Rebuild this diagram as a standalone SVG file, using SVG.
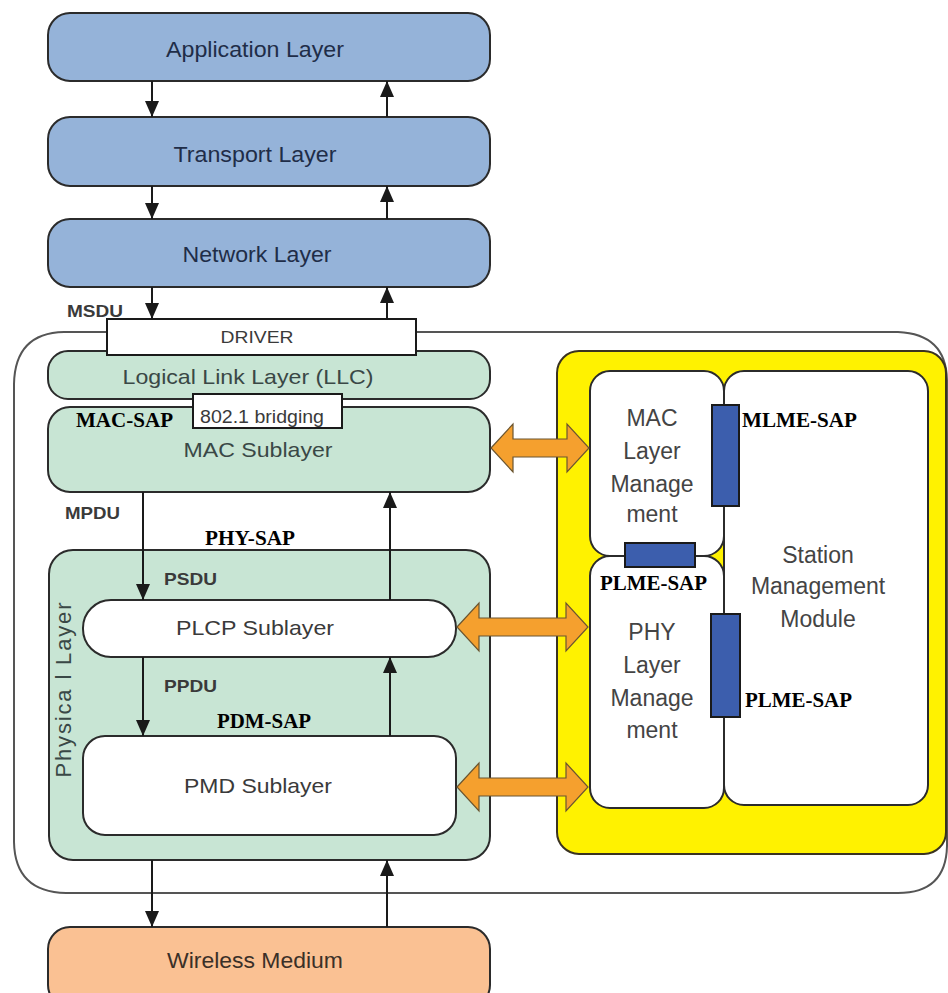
<svg xmlns="http://www.w3.org/2000/svg" width="948" height="993" viewBox="0 0 948 993">
<defs>
<style>
.blue{fill:#95B3D9;stroke:#2b2b2b;stroke-width:2}
.green{fill:#C8E5D4;stroke:#2b2b2b;stroke-width:2}
.white{fill:#FFFFFF;stroke:#2b2b2b;stroke-width:2}
.orange{fill:#FAC193;stroke:#2b2b2b;stroke-width:2}
.sap{fill:#3C5EAD;stroke:#1a1a1a;stroke-width:2}
.oarrow{fill:#F5A02E;stroke:#6b5530;stroke-width:1.2}
.lbl{font-family:"Liberation Sans",Arial,sans-serif;text-anchor:middle}
.big{font-size:22px;fill:#1f2d48}
.gtxt{font-size:21px;fill:#3a4846}
.wtxt{font-size:21px;fill:#3a3a3a}
.pdu{font-family:"Liberation Sans",Arial,sans-serif;font-weight:bold;font-size:17px;fill:#3a3a3a}
.sapt{font-family:"Liberation Serif","Times New Roman",serif;font-weight:bold;font-size:20px;fill:#000}
.mg{font-family:"Liberation Sans",Arial,sans-serif;font-size:23px;fill:#444;text-anchor:middle}
.conn{stroke:#1a1a1a;stroke-width:2;fill:none;marker-end:url(#ah)}
</style>
<marker id="ah" markerUnits="userSpaceOnUse" markerWidth="16" markerHeight="14" refX="16" refY="7" orient="auto">
<path d="M0,0 L16,7 L0,14 z" fill="#1a1a1a"/>
</marker>
</defs>
<rect width="948" height="993" fill="#FFFFFF"/>

<g id="container">
<path d="M64,332 L898,332 Q946,334 947,380 L947,846 Q946,893 898,893 L66,893 Q15,892 14,842 L14,384 Q15,333 64,332 Z" fill="#FFFFFF" stroke="#555555" stroke-width="2"/>
</g>

<g id="application">
<rect class="blue" x="48" y="13" width="442" height="68" rx="22"/>
<text class="lbl big" x="255" y="57" textLength="178" lengthAdjust="spacingAndGlyphs">Application Layer</text>
</g>
<g id="transport">
<rect class="blue" x="48" y="117" width="442" height="69" rx="22"/>
<text class="lbl big" x="255" y="162" textLength="163" lengthAdjust="spacingAndGlyphs">Transport Layer</text>
</g>
<g id="network">
<rect class="blue" x="48" y="219" width="442" height="68" rx="22"/>
<text class="lbl big" x="257" y="262" textLength="149" lengthAdjust="spacingAndGlyphs">Network Layer</text>
</g>

<g id="station-mgmt">
<rect x="557" y="351" width="389" height="503" rx="22" fill="#FFF200" stroke="#3a3320" stroke-width="2"/>
<rect class="white" x="590" y="371" width="134" height="185" rx="20"/>
<rect class="white" x="590" y="556" width="134" height="252" rx="20"/>
<rect class="white" x="724" y="371" width="204" height="434" rx="20"/>
<text class="mg" x="652" y="426">MAC</text>
<text class="mg" x="652" y="459">Layer</text>
<text class="mg" x="652" y="492">Manage</text>
<text class="mg" x="652" y="522">ment</text>
<text class="mg" x="652" y="640">PHY</text>
<text class="mg" x="652" y="673">Layer</text>
<text class="mg" x="652" y="706">Manage</text>
<text class="mg" x="652" y="738">ment</text>
<text class="mg" x="818" y="563">Station</text>
<text class="mg" x="818" y="594">Management</text>
<text class="mg" x="818" y="627">Module</text>
<rect class="sap" x="712" y="405" width="27" height="101"/>
<rect class="sap" x="625" y="543" width="70" height="24"/>
<rect class="sap" x="711" y="614" width="29" height="103"/>
<text class="sapt" x="742" y="427" textLength="115" lengthAdjust="spacingAndGlyphs">MLME-SAP</text>
<text class="sapt" x="600" y="590" textLength="107" lengthAdjust="spacingAndGlyphs">PLME-SAP</text>
<text class="sapt" x="745" y="707" textLength="107" lengthAdjust="spacingAndGlyphs">PLME-SAP</text>
</g>

<g id="llc">
<rect class="green" x="48" y="351" width="442" height="48" rx="20"/>
<text class="lbl gtxt" x="248" y="384" textLength="251" lengthAdjust="spacingAndGlyphs">Logical Link Layer (LLC)</text>
</g>
<g id="mac">
<rect class="green" x="48" y="407" width="442" height="85" rx="22"/>
<text class="lbl gtxt" x="258" y="457" textLength="149" lengthAdjust="spacingAndGlyphs">MAC Sublayer</text>
</g>
<g id="bridging">
<rect x="193" y="394" width="149" height="34" fill="#FFFFFF" stroke="#1a1a1a" stroke-width="2"/>
<text x="200" y="423" font-family="Liberation Sans, Arial, sans-serif" font-size="18" fill="#3a3a3a" textLength="124" lengthAdjust="spacingAndGlyphs">802.1 bridging</text>
</g>
<g id="driver">
<rect x="107" y="319" width="309" height="36" fill="#FFFFFF" stroke="#1a1a1a" stroke-width="2"/>
<text class="lbl" x="257" y="343" font-size="17" fill="#3a3a3a" textLength="73" lengthAdjust="spacingAndGlyphs">DRIVER</text>
</g>

<g id="physical">
<rect class="green" x="49" y="550" width="441" height="310" rx="24"/>
<text class="lbl" transform="translate(71,690) rotate(-90)" font-size="22" fill="#3a4846" textLength="175" lengthAdjust="spacing">Physica l Layer</text>
</g>
<g id="plcp">
<rect class="white" x="83" y="600" width="373" height="57" rx="28"/>
<text class="lbl wtxt" x="255" y="635" textLength="158" lengthAdjust="spacingAndGlyphs">PLCP Sublayer</text>
</g>
<g id="pmd">
<rect class="white" x="83" y="736" width="373" height="99" rx="22"/>
<text class="lbl wtxt" x="258" y="793" textLength="148" lengthAdjust="spacingAndGlyphs">PMD Sublayer</text>
</g>

<g id="wireless">
<rect class="orange" x="48" y="927" width="442" height="80" rx="22"/>
<text class="lbl" x="255" y="968" font-size="22" fill="#3a3028" textLength="176" lengthAdjust="spacingAndGlyphs">Wireless Medium</text>
</g>

<g id="labels">
<text class="pdu" x="67" y="317" textLength="56" lengthAdjust="spacingAndGlyphs">MSDU</text>
<text class="sapt" x="76" y="427" textLength="97" lengthAdjust="spacingAndGlyphs">MAC-SAP</text>
<text class="pdu" x="65" y="519" textLength="55" lengthAdjust="spacingAndGlyphs">MPDU</text>
<text class="sapt" x="205" y="545" textLength="90" lengthAdjust="spacingAndGlyphs">PHY-SAP</text>
<text class="pdu" x="164" y="585" textLength="53" lengthAdjust="spacingAndGlyphs">PSDU</text>
<text class="pdu" x="164" y="692" textLength="53" lengthAdjust="spacingAndGlyphs">PPDU</text>
<text class="sapt" x="217" y="728" textLength="94" lengthAdjust="spacingAndGlyphs">PDM-SAP</text>
</g>

<g id="connectors">
<line class="conn" x1="152" y1="81" x2="152" y2="117"/>
<line class="conn" x1="387" y1="117" x2="387" y2="81"/>
<line class="conn" x1="152" y1="186" x2="152" y2="219"/>
<line class="conn" x1="387" y1="219" x2="387" y2="186"/>
<line class="conn" x1="152" y1="287" x2="152" y2="319"/>
<line class="conn" x1="387" y1="319" x2="387" y2="287"/>
<line class="conn" x1="143" y1="492" x2="143" y2="600"/>
<line class="conn" x1="390" y1="600" x2="390" y2="492"/>
<line class="conn" x1="143" y1="657" x2="143" y2="736"/>
<line class="conn" x1="390" y1="736" x2="390" y2="657"/>
<line class="conn" x1="152" y1="860" x2="152" y2="927"/>
<line class="conn" x1="387" y1="927" x2="387" y2="860"/>
<polygon class="oarrow" points="491,448 513,424 513,439 567,439 567,424 589,448 567,472 567,457 513,457 513,472"/>
<polygon class="oarrow" points="457,627 479,603 479,618 566,618 566,603 588,627 566,651 566,636 479,636 479,651"/>
<polygon class="oarrow" points="457,787 479,763 479,778 566,778 566,763 588,787 566,811 566,796 479,796 479,811"/>
</g>
</svg>
